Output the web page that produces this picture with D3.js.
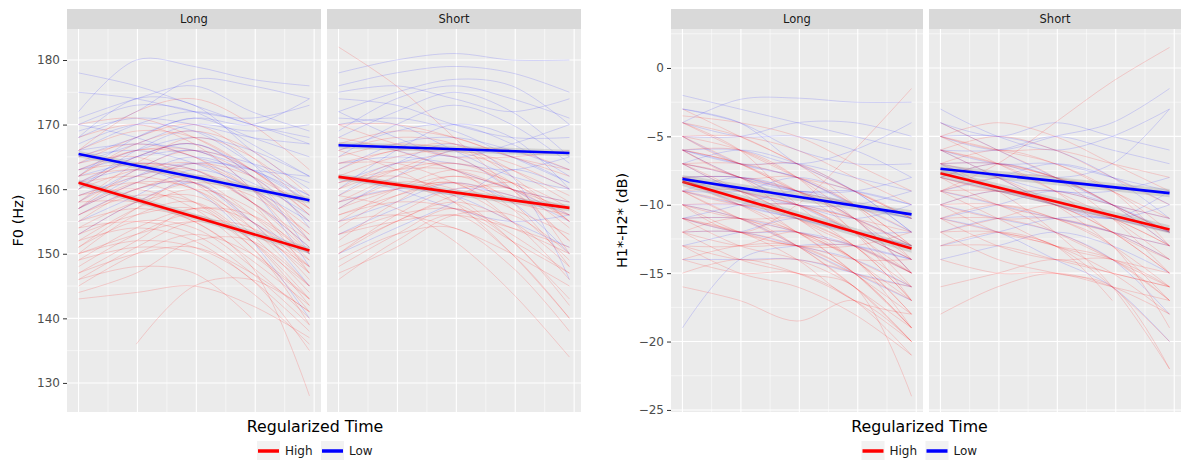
<!DOCTYPE html>
<html>
<head>
<meta charset="utf-8">
<script src="https://cdn.jsdelivr.net/npm/d3@7"></script>
<style>
  body { margin: 0; background: #fff; }
  svg { display: block; font-family: "DejaVu Sans", sans-serif; }
</style>
</head>
<body>
<script>
// sample times along each (regularized) trajectory
var times = [0, 0.245, 0.49, 0.735, 0.98];
var facets = ["Long", "Short"];
var groups = ["High", "Low"];
var f0Ticks = [130, 140, 150, 160, 170, 180];
var h1h2Ticks = [-25, -20, -15, -10, -5, 0];

// F0 (Hz), Long
var f0LongHigh = [
  [161,164,162,156,148],[155,160,161,155,146],[150,156,158,152,142],[165,167,165,160,152],
  [158,162,163,158,150],[145,150,153,150,143],[152,157,160,157,149],[163,166,166,162,155],
  [148,153,156,151,139],[157,161,160,153,144],[170,171,168,163,157],[143,144,145,142,137],
  [160,163,164,160,153],[154,158,159,154,147],[166,169,168,163,156],[147,152,157,155,147],
  [159,161,158,151,141],[151,155,154,148,140],[162,167,169,166,159],[156,160,162,158,151],
  [149,151,150,144,136],[164,165,161,154,145],[153,158,161,159,153],[146,148,147,140,null],
  [168,170,167,160,150],[157,163,166,163,156],[152,154,152,146,138],[161,162,160,155,149],
  [144,147,152,152,145],[158,164,168,165,158],[155,157,155,148,128],[150,153,155,153,148],
  [163,164,163,158,152],[null,136,145,146,141],[166,172,174,170,163],[159,160,157,150,143],
  [156,159,158,152,145],[162,163,161,156,150],[149,154,157,156,150],[153,156,157,152,143],
  [160,165,167,162,152],[147,150,151,147,141],[164,168,170,165,157],[151,157,162,160,154],
  [158,158,155,149,142],[146,151,155,154,148],[162,166,165,158,147],[154,155,153,147,139],
  [157,161,164,162,157],[150,152,151,146,135]
];
var f0LongLow = [
  [178,176,173,170,168],[172,180,179,177,176],[168,172,177,176,174],[165,168,171,168,165],
  [160,165,167,163,158],[170,173,172,167,162],[157,162,165,162,155],[163,166,168,166,162],
  [167,170,169,164,159],[155,159,163,160,152],[171,174,176,172,169],[162,164,163,158,151],
  [166,170,172,170,167],[158,163,166,160,148],[169,171,170,168,167],[161,163,160,152,140],
  [164,167,170,169,170],[153,158,161,155,145],[175,174,172,171,173],[159,162,164,161,156],
  [168,174,173,166,160],[156,160,161,155,150],[162,168,171,170,174],[165,166,164,160,155],
  [160,166,169,164,154],[170,168,165,163,162],[163,165,166,164,161],[157,161,164,163,158],
  [166,167,166,163,159],[161,165,167,162,150]
];
// F0 (Hz), Short
var f0ShortHigh = [
  [182,176,168,160,152],[170,170,168,165,162],[165,167,166,163,159],[160,163,164,161,156],
  [155,160,163,161,155],[150,155,158,155,148],[148,153,157,152,142],[162,165,166,164,160],
  [168,166,163,160,158],[157,161,160,155,146],[153,156,157,154,150],[164,164,161,157,153],
  [159,163,166,166,163],[146,152,156,150,140],[167,169,168,165,163],[152,158,162,158,148],
  [161,162,159,152,143],[156,158,157,152,147],[170,167,165,165,166],[149,153,154,148,138],
  [163,166,165,160,152],[158,160,161,158,156],[154,159,161,155,null],[166,163,158,150,140],
  [151,155,159,161,157],[160,164,163,157,149],[157,160,162,160,154],[164,166,167,163,158],
  [147,151,156,156,150],[159,157,152,144,134],[156,159,161,159,156],[162,161,158,153,147],
  [153,155,156,154,151],[166,168,167,162,155],[150,156,160,160,155],[161,163,163,160,157],
  [158,162,164,161,150],[155,156,154,150,145]
];
var f0ShortLow = [
  [178,180,181,180,180],[176,178,179,178,175],[172,175,177,176,170],[168,172,175,172,165],
  [174,173,170,168,168],[165,170,173,170,164],[160,166,170,168,160],[170,171,169,165,161],
  [163,167,168,166,163],[157,162,166,165,161],[167,166,163,160,158],[155,158,161,158,150],
  [162,160,157,155,156],[150,154,158,163,160],[175,176,174,172,174],[166,169,170,167,162],
  [159,164,167,162,146],[171,170,166,162,160],[164,165,164,163,165],[169,174,176,174,171],
  [153,157,160,159,155],[161,164,165,160,156],[172,168,165,167,170],[158,160,159,155,151]
];
// H1*-H2* (dB), Long
var h1h2LongHigh = [
  [-4,-6,-8,-10,-13],[-6,-8,-9,-11,-14],[-8,-9,-10,-12,-16],[-10,-10,-11,-13,-17],
  [-12,-12,-13,-15,-19],[-5,-7,-7,-9,-11],[-7,-8,-11,-13,-15],[-9,-11,-12,-14,-18],
  [-11,-13,-14,-16,-20],[-14,-15,-15,-17,-21],[-3.5,-4,-5,-7,-9],[-6,-7,-9,-12,-17],
  [-8,-10,-10,-11,-12],[-10,-12,-13,-13,-15],[-13,-13,-12,-14,-18],[-16,-17,-18.5,-17,-20],
  [-5,-5,-6,-8,-10],[-7,-9,-12,-14,-19],[-9,-10,-10,-12,-14],[-11,-11,-12,-15,-18],
  [-4,-6,-10,-13,-16],[-12,-14,-15,-16,-24],[-6,-8,-8,-10,-13],[-8,-9,-11,-14,-17],
  [-10,-11,-11,-12,-13],[-15,-14,-15,-17,-20],[-7,-7,-8,-9,-11],[-9,-11,-13,-15,-16],
  [-11,-12,-13,-13,-12],[-5,-7,-9,-11,-13],[-13,-15,-16,-18,-21],[-3,-5,-7,-10,-14],
  [-8,-8,-9,-11,-15],[-10,-12,-10,-6,-1.5],[-6,-6,-8,-12,-15],[-12,-11,-13,-16,-19],
  [-7,-9,-10,-12,-14],[-9,-9,-11,-13,-17],[-11,-12,-12,-14,-16],[-5,-6,-8,-11,-15],
  [-13,-14,-14,-15,-17],[-8,-10,-12,-13,-15],[-10,-11,-13,-16,-20],[-6,-7,-9,-10,-12],
  [-12,-13,-13,-14,-14],[-9,-10,-12,-15,-19],[-4,-5,-7,-9,-11],[-11,-12,-14,-17,-18],
  [-7,-8,-10,-11,-13],[-14,-13,-13,-15,-19]
];
var h1h2LongLow = [
  [-2,-3,-4,-5,-6],[-4,-2.3,-2.2,-2.5,-2.5],[-6,-6,-7,-6,-4],[-8,-8,-9,-9,-10],
  [-5,-7,-8,-10,-11],[-10,-10,-10,-11,-13],[-7,-8,-10,-12,-14],[-12,-12,-13,-14,-16],
  [-3,-4,-6,-7,-7],[-9,-9,-8,-9,-10],[-11,-11,-12,-13,-14],[-6,-7,-7,-8,-9],
  [-19,-14,-13,-13,-14],[-8,-10,-11,-12,-12],[-4,-5,-5,-6,-8],[-13,-12,-11,-12,-13],
  [-7,-6,-7,-9,-12],[-10,-11,-13,-15,-17],[-5,-5,-4,-4,-5],[-9,-8,-9,-11,-15],
  [-6,-8,-9,-9,-8],[-11,-10,-9,-10,-11],[-8,-9,-10,-11,-10],[-14,-14,-14,-15,-16],
  [-3,-4,-7,-9,-12],[-7,-9,-10,-10,-9],[-9,-10,-11,-12,-13],[-6,-7,-8,-10,-12],
  [-11,-12,-12,-13,-15],[-8,-8,-9,-10,-11]
];
// H1*-H2* (dB), Short
var h1h2ShortHigh = [
  [-9,-7,-4,-1,1.5],[-5,-6,-7,-9,-11],[-7,-7,-8,-10,-13],[-9,-9,-10,-12,-15],
  [-11,-11,-12,-14,-17],[-13,-12,-13,-16,-20],[-6,-5,-6,-8,-10],[-8,-10,-11,-12,-13],
  [-10,-12,-13,-15,-18],[-12,-14,-15,-16,-22],[-5,-4,-5,-7,-9],[-7,-8,-10,-13,-17],
  [-9,-8,-8,-10,-12],[-11,-13,-14,-14,-16],[-14,-15,-15,-16,-17],[-16,-15,-14,-15,-16],
  [-6,-7,-9,-12,-14],[-8,-9,-9,-10,-11],[-10,-10,-11,-13,-19],[-4,-6,-8,-11,-15],
  [-12,-11,-10,-11,-13],[-18,-16,-15,-16,-18],[-7,-9,-12,-16,-22],[-9,-10,-12,-14,-16],
  [-5,-6,-6,-7,-8],[-11,-12,-13,-17,null],[-8,-7,-8,-9,-12],[-13,-13,-14,-15,-16],
  [-6,-8,-10,-11,-12],[-10,-11,-11,-12,-14],[-8,-9,-10,-11,-13],[-6,-7,-8,-10,-12],
  [-10,-9,-10,-12,-15],[-12,-12,-13,-14,-17],[-7,-6,-7,-9,-13],[-9,-11,-13,-14,-15],
  [-5,-7,-9,-11,-14],[-11,-10,-11,-13,-16]
];
var h1h2ShortLow = [
  [-3,-5,-6,-5,-3],[-5,-6,-5,-4,-1.5],[-7,-7,-8,-7,-3],[-9,-8,-7,-8,-10],
  [-4,-6,-8,-10,-12],[-11,-10,-9,-10,-12],[-6,-7,-7,-8,-9],[-8,-9,-10,-11,-10],
  [-13,-12,-11,-11,-12],[-5,-5,-6,-8,-11],[-10,-11,-12,-14,-18],[-7,-8,-9,-9,-8],
  [-12,-11,-11,-12,-13],[-6,-6,-5,-6,-7],[-9,-10,-11,-12,-14],[-14,-13,-12,-13,-15],
  [-8,-7,-8,-10,-13],[-4,-5,-4,-5,-6],[-11,-12,-14,-16,-20],[-7,-9,-9,-10,-11],
  [-10,-9,-10,-11,-12],[-6,-8,-10,-11,-9]
];

// linear fits: [value at start, value at end]
var f0FitLongHigh = [161.0, 150.5];
var f0FitLongLow = [165.45, 158.3];
var f0FitShortHigh = [161.9, 157.1];
var f0FitShortLow = [166.8, 165.6];
var h1h2FitLongHigh = [-8.32, -13.2];
var h1h2FitLongLow = [-8.12, -10.7];
var h1h2FitShortHigh = [-7.7, -11.8];
var h1h2FitShortLow = [-7.37, -9.15];

var colors = {High: "#ff0000", Low: "#0000ff"};

var svg = d3.select("body").append("svg")
    .attr("width", 1181)
    .attr("height", 462);

var panelTop = 29, panelBottom = 412;
var xMajor = [0, 0.25, 0.5, 0.75, 1.0];
var xMinor = [0.125, 0.375, 0.625, 0.875];
var clipId = 0;

function drawFacet(left, width, y, yMajor, yMinor, name, highLines, lowLines, fitHigh, fitLow, se){
    var x = d3.scaleLinear().domain([-0.049, 1.029]).range([left, left + width]);
    var g = svg.append("g");

    g.append("rect")
        .attr("x", left).attr("y", panelTop)
        .attr("width", width).attr("height", panelBottom - panelTop)
        .attr("fill", "#ebebeb");

    // strip
    g.append("rect")
        .attr("x", left).attr("y", 9)
        .attr("width", width).attr("height", 20)
        .attr("fill", "#d9d9d9");
    g.append("text")
        .attr("x", left + width / 2).attr("y", 23)
        .attr("text-anchor", "middle")
        .attr("font-size", "11.5px")
        .attr("fill", "#1a1a1a")
        .text(name);

    // grid
    g.selectAll(".vminor").data(xMinor).enter().append("line")
        .attr("x1", d => x(d)).attr("x2", d => x(d))
        .attr("y1", panelTop).attr("y2", panelBottom)
        .attr("stroke", "#fff").attr("stroke-width", 0.55);
    g.selectAll(".hminor").data(yMinor).enter().append("line")
        .attr("x1", left).attr("x2", left + width)
        .attr("y1", d => y(d)).attr("y2", d => y(d))
        .attr("stroke", "#fff").attr("stroke-width", 0.55);
    g.selectAll(".vmajor").data(xMajor).enter().append("line")
        .attr("x1", d => x(d)).attr("x2", d => x(d))
        .attr("y1", panelTop).attr("y2", panelBottom)
        .attr("stroke", "#fff").attr("stroke-width", 1.1);
    g.selectAll(".hmajor").data(yMajor).enter().append("line")
        .attr("x1", left).attr("x2", left + width)
        .attr("y1", d => y(d)).attr("y2", d => y(d))
        .attr("stroke", "#fff").attr("stroke-width", 1.1);

    clipId++;
    svg.append("clipPath").attr("id", "clip" + clipId)
        .append("rect")
        .attr("x", left).attr("y", panelTop)
        .attr("width", width).attr("height", panelBottom - panelTop);
    var inner = g.append("g").attr("clip-path", "url(#clip" + clipId + ")");

    var line = d3.line()
        .defined(d => d[1] != null)
        .x(d => x(d[0]))
        .y(d => y(d[1]))
        .curve(d3.curveCatmullRom.alpha(0.5));

    function thin(lines, color, op){
        inner.append("g").selectAll("path")
            .data(lines)
            .enter()
            .append("path")
            .attr("d", d => line(times.map((t, i) => [t, d[i]])))
            .attr("fill", "none")
            .attr("stroke", color)
            .attr("stroke-opacity", op)
            .attr("stroke-width", 0.8);
    }
    thin(lowLines, colors.Low, 0.18);
    thin(highLines, colors.High, 0.2);

    // fitted lines with a thin grey band
    var tEnds = [times[0], times[times.length - 1]];
    var area = d3.area()
        .x(d => x(d[0]))
        .y0(d => y(d[1] - se))
        .y1(d => y(d[1] + se));
    [[fitHigh, "High"], [fitLow, "Low"]].forEach(function(f){
        var pts = tEnds.map((t, i) => [t, f[0][i]]);
        inner.append("path")
            .attr("d", area(pts))
            .attr("fill", "#999")
            .attr("fill-opacity", 0.3);
        inner.append("path")
            .attr("d", d3.line().x(d => x(d[0])).y(d => y(d[1]))(pts))
            .attr("fill", "none")
            .attr("stroke", colors[f[1]])
            .attr("stroke-width", 2.6);
    });
}

function drawPlot(left, facetWidth, gap, domain, ticks, minor, yTitle, titleX, shift, data, se){
    var y = d3.scaleLinear().domain(domain).range([panelBottom, panelTop]);

    facets.forEach(function(name, i){
        var l = left + i * (facetWidth + gap);
        drawFacet(l, facetWidth, y, ticks, minor, name, data[i][0], data[i][1], data[i][2], data[i][3], se);
    });

    var yAxis = d3.axisLeft(y).tickValues(ticks).tickSize(4).tickPadding(3);
    var ax = svg.append("g")
        .attr("transform", "translate(" + left + ",0)")
        .call(yAxis);
    ax.select(".domain").remove();
    ax.selectAll(".tick line").attr("stroke", "#333").attr("stroke-width", 1);
    ax.selectAll(".tick text")
        .attr("fill", "#4d4d4d")
        .attr("font-size", "12px")
        .attr("font-family", "DejaVu Sans, sans-serif");

    svg.append("text")
        .attr("transform", "translate(" + titleX + "," + ((panelTop + panelBottom) / 2) + ")rotate(-90)")
        .attr("text-anchor", "middle")
        .attr("dy", "0.35em")
        .attr("font-size", "14.5px")
        .attr("fill", "#000")
        .text(yTitle);

    var total = 2 * facetWidth + gap;
    var cx = left + total / 2 + shift;
    svg.append("text")
        .attr("x", cx).attr("y", 432)
        .attr("text-anchor", "middle")
        .attr("font-size", "15.8px")
        .attr("fill", "#000")
        .text("Regularized Time");

    // legend
    var lg = svg.append("g").attr("transform", "translate(" + (cx - 58) + ",441)");
    var keyX = [0, 64];
    groups.forEach(function(gname, i){
        lg.append("rect")
            .attr("x", keyX[i]).attr("y", 0)
            .attr("width", 23).attr("height", 19)
            .attr("fill", "#f2f2f2");
        lg.append("line")
            .attr("x1", keyX[i] + 1).attr("x2", keyX[i] + 22)
            .attr("y1", 10).attr("y2", 10)
            .attr("stroke", colors[gname])
            .attr("stroke-width", 3.5);
        lg.append("text")
            .attr("x", keyX[i] + 28).attr("y", 10)
            .attr("dy", "0.35em")
            .attr("font-size", "12px")
            .attr("fill", "#1a1a1a")
            .text(gname);
    });
}

drawPlot(67, 254, 6, [125.5, 184.8], f0Ticks, [135, 145, 155, 165, 175], "F0 (Hz)", 18, -9,
    [[f0LongHigh, f0LongLow, f0FitLongHigh, f0FitLongLow],
     [f0ShortHigh, f0ShortLow, f0FitShortHigh, f0FitShortLow]], 0.5);

drawPlot(671, 252, 6, [-25.15, 2.85], h1h2Ticks, [-22.5, -17.5, -12.5, -7.5, -2.5, 2.5], "H1*-H2* (dB)", 622, -6.5,
    [[h1h2LongHigh, h1h2LongLow, h1h2FitLongHigh, h1h2FitLongLow],
     [h1h2ShortHigh, h1h2ShortLow, h1h2FitShortHigh, h1h2FitShortLow]], 0.3);
</script>
</body>
</html>
